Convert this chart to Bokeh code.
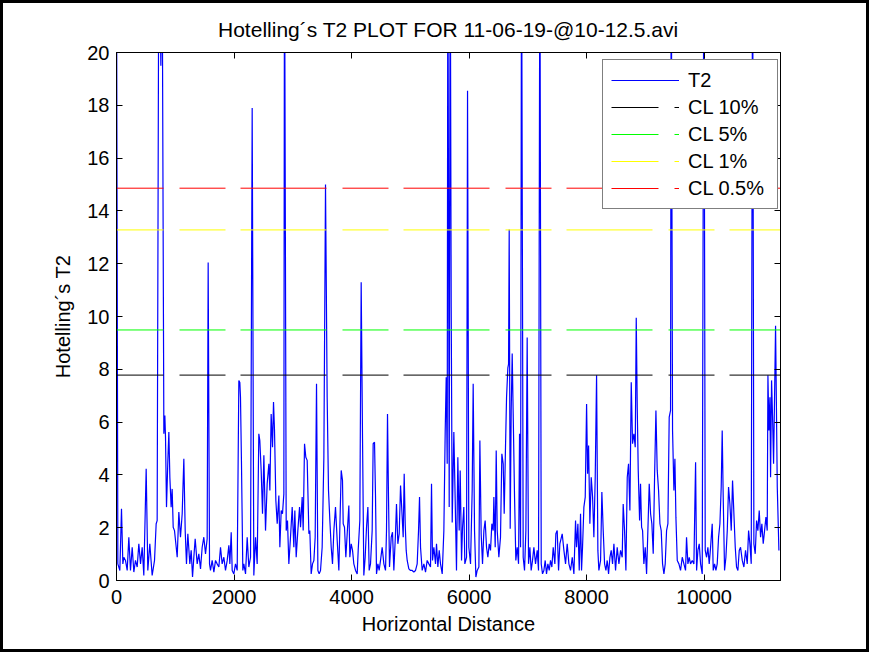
from bokeh.plotting import figure
from bokeh.models import (Range1d, LinearAxis, FixedTicker, Legend, LegendItem,
                          CustomJSTickFormatter)
from bokeh.embed import file_html
from bokeh.resources import INLINE

# ---------------- data ----------------
title_text = "Hotelling´s T2 PLOT FOR 11-06-19-@10-12.5.avi"
x_label = "Horizontal Distance"
y_label = "Hotelling´s T2"
x_ticks = [0, 2000, 4000, 6000, 8000, 10000]
y_ticks = [0, 2, 4, 6, 8, 10, 12, 14, 16, 18, 20]
x_lim = [0, 11300]
y_lim = [0, 20]

dist = [
    0, 23, 57, 85, 108, 125, 153, 182, 210, 238, 267, 295, 323, 352, 380, 409, 437, 465,
    505, 533, 567, 607, 647, 675, 692, 721, 755, 775, 806, 823, 834, 851, 874, 891, 908,
    930, 947, 965, 987, 1016, 1033, 1061, 1089, 1118, 1146, 1169, 1191, 1214, 1248, 1271,
    1294, 1316, 1339, 1373, 1401, 1430, 1458, 1486, 1515, 1543, 1560, 1583, 1600, 1628,
    1657, 1685, 1713, 1742, 1770, 1798, 1827, 1855, 1884, 1912, 1929, 1952, 1969, 1997,
    2025, 2054, 2082, 2099, 2110, 2127, 2150, 2167, 2196, 2224, 2252, 2281, 2309, 2337,
    2366, 2394, 2422, 2439, 2462, 2485, 2508, 2536, 2564, 2593, 2610, 2632, 2655, 2672,
    2689, 2712, 2735, 2763, 2780, 2803, 2825, 2848, 2859, 2888, 2910, 2933, 2961, 2990,
    3018, 3035, 3058, 3086, 3115, 3132, 3160, 3177, 3200, 3222, 3245, 3274, 3290, 3313,
    3336, 3359, 3381, 3404, 3427, 3449,
    3472, 3500, 3529, 3557, 3585, 3608, 3631, 3654, 3676, 3699, 3727, 3756, 3784, 3801,
    3824, 3846, 3858, 3880, 3903, 3926, 3954, 3971, 3994, 4017, 4039, 4068, 4096, 4113,
    4141, 4164, 4187, 4209, 4232, 4255, 4278, 4300, 4323, 4351, 4368, 4391, 4408, 4425,
    4448, 4470, 4493, 4521, 4550, 4578, 4595, 4612, 4629, 4646, 4675, 4697, 4720, 4748,
    4765, 4788, 4811, 4834, 4856, 4879, 4896, 4913, 4930, 4947, 4975, 5004, 5032, 5060,
    5089, 5117, 5140, 5157, 5174, 5202, 5231, 5259, 5287, 5316, 5344, 5361, 5378, 5401,
    5429, 5446, 5469, 5492, 5514, 5543, 5571, 5594, 5611, 5628, 5639, 5662, 5679, 5696,
    5713, 5741, 5764, 5786, 5809, 5832, 5849, 5872, 5889, 5911, 5928, 5957, 5974, 5996,
    6025, 6053, 6070, 6093, 6116, 6138, 6167, 6184, 6206, 6229, 6252, 6274, 6297, 6320,
    6343, 6365, 6388, 6411, 6422, 6445, 6462, 6479, 6507, 6535, 6558, 6581, 6598, 6620,
    6638, 6660, 6672, 6683, 6700, 6717, 6734, 6751, 6774, 6796, 6819, 6842, 6859, 6876,
    6893, 6921, 6944, 6967, 6989, 7012, 7035, 7057, 7080, 7103, 7131, 7160, 7182, 7205,
    7228, 7250, 7273, 7296, 7318, 7341, 7364, 7386, 7409, 7432, 7460, 7477, 7500, 7523,
    7545,
    7585, 7614, 7642, 7670, 7699, 7727, 7756, 7784, 7812, 7829, 7852, 7875, 7897, 7914,
    7931, 7954, 7977, 8000, 8017, 8034, 8056, 8079, 8102, 8124, 8147, 8170, 8192, 8209,
    8238, 8260, 8283, 8306, 8329, 8351, 8374, 8397, 8419, 8442, 8465, 8493, 8521, 8550,
    8578, 8606, 8623, 8646, 8669, 8692, 8714, 8737, 8760, 8782, 8805, 8828, 8845, 8862,
    8879, 8902, 8918, 8936, 8953, 8975, 8998, 9021, 9043, 9066, 9089, 9111, 9134, 9157,
    9180, 9202, 9225, 9248, 9270, 9293, 9316, 9338, 9361, 9384, 9406, 9429, 9440, 9463,
    9486, 9503, 9520, 9543, 9571, 9599, 9628, 9656, 9684, 9701, 9724, 9747, 9769, 9798,
    9826, 9855, 9872, 9894, 9917, 9940, 9968, 9996, 10019, 10042, 10064, 10087, 10110,
    10138, 10155, 10178, 10201, 10223, 10246, 10269, 10291, 10308, 10325, 10348, 10371,
    10394, 10416, 10439, 10462, 10484, 10507, 10530, 10552, 10575, 10598, 10620, 10649,
    10677, 10705, 10734, 10757, 10779, 10802, 10825, 10847, 10870, 10893, 10915, 10938,
    10961, 10983, 11006, 11029, 11052, 11074, 11086, 11103, 11120, 11131, 11148, 11165,
    11182, 11199, 11216, 11245, 11273,
]

t2 = [
    24.0, 0.63, 0.38, 2.72, 0.63, 0.88, 0.76, 0.38, 1.64, 0.38, 1.26, 0.32, 0.76, 0.51, 1.39, 0.63, 1.26, 0.19,
    4.23, 0.38, 1.39, 0.19, 0.76, 2.15, 2.27, 25.0, 19.5, 25.0, 5.56, 6.25, 5.43, 2.78, 4.55, 5.62, 3.91,
    2.78, 3.47, 2.02, 1.89, 1.26, 0.88, 2.59, 1.64, 2.53, 4.61, 1.89, 0.63, 1.77, 0.63, 1.14,
    0.13, 0.88, 1.58, 0.63, 1.01, 0.44, 1.26, 1.64, 1.01, 1.58, 12.05, 0.63, 0.38, 0.76,
    0.32, 0.76, 0.63, 0.51, 1.26, 0.63, 0.88, 0.38, 0.76, 1.33, 0.63, 1.83, 0.38, 0.25,
    0.63, 0.38, 7.58, 7.5, 6.94, 4.42, 0.38, 0.63, 0.25, 1.64, 0.51, 0.88, 17.9, 0.19,
    1.64, 0.63, 5.56, 5.3, 4.17, 2.53, 4.74, 1.89, 3.66, 4.42, 3.41, 6.31, 5.05, 6.76,
    5.68, 3.03, 2.15, 3.22, 1.26, 2.65, 2.53, 3.28, 25.0, 1.89, 2.27, 0.63, 1.64, 2.78,
    1.26, 2.65, 0.88, 1.89, 2.78, 2.02, 3.16, 1.89, 5.18, 4.67, 4.55, 1.77, 1.89, 0.25,
    0.63, 0.76, 1.64, 7.45, 0.38, 0.25,
    0.38, 1.26, 4.67, 15.0, 6.94, 3.41, 2.27, 1.26, 0.63, 1.89, 2.78, 1.51, 0.38, 2.02,
    4.17, 3.79, 2.15, 2.02, 0.88, 1.77, 2.84, 0.88, 1.39, 1.14, 0.63, 0.38, 0.25, 1.14,
    2.27, 11.3, 5.37, 0.19, 0.88, 2.02, 2.78, 0.38, 0.63, 1.89, 5.18, 5.24, 3.16, 0.25,
    0.63, 0.38, 0.76, 1.26, 0.63, 0.38, 1.89, 6.31, 3.16, 0.51, 1.64, 1.83, 0.38, 1.77,
    2.9, 1.39, 1.77, 3.6, 2.65, 1.64, 4.04, 2.15, 1.14, 0.76, 0.44, 0.38, 0.38, 0.32,
    0.38, 0.63, 1.89, 3.16, 1.26, 0.38, 0.63, 0.32, 0.76, 0.63, 0.51, 3.66, 0.76, 1.26,
    0.63, 1.39, 0.51, 1.14, 0.63, 0.25, 1.89, 5.68, 7.7, 4.42, 25.0, 2.78, 25.0, 10.35,
    2.2, 5.62, 3.03, 0.38, 4.67, 1.89, 4.17, 0.76, 2.02, 2.78, 0.63, 0.88, 18.55, 1.26,
    0.63, 3.41, 7.45, 1.89, 0.13, 0.38, 0.51, 5.3, 1.77, 0.63, 1.89, 2.27, 1.26, 0.88,
    1.39, 1.14, 2.15, 1.89, 3.16, 1.26, 4.92, 1.89, 0.88, 1.64, 4.8, 4.42, 2.53, 5.05,
    6.94, 8.05, 8.2, 13.3, 1.96, 6.44, 8.6, 6.31, 3.16, 0.76, 1.26, 0.63, 5.56, 1.26,
    25.0, 0.88, 0.38, 1.89, 9.2, 0.63, 1.26, 0.38, 0.76, 1.26, 0.63, 1.14, 0.38, 25.0,
    0.63, 0.25, 0.38, 0.76, 0.25, 0.63, 0.38, 0.76, 0.51, 1.26, 0.63, 1.77, 1.89, 0.38,
    1.39,
    1.77, 1.14, 0.63, 1.39, 0.63, 0.38, 0.88, 0.25, 2.27, 1.26, 2.15, 0.38, 2.53, 0.38,
    1.26, 2.78, 3.16, 6.69, 4.04, 5.11, 2.15, 3.91, 3.16, 1.64, 3.91, 7.77, 1.14, 0.38,
    0.76, 3.35, 1.89, 0.63, 0.38, 0.76, 0.25, 0.88, 1.14, 0.63, 1.39, 0.38, 1.26, 0.63,
    1.14, 0.88, 2.9, 1.89, 0.38, 3.91, 4.42, 2.65, 7.51, 5.18, 5.56, 5.05, 9.95, 6.56,
    4.17, 2.27, 3.66, 2.02, 1.89, 0.63, 1.26, 0.25, 1.89, 3.66, 2.53, 2.15, 1.01, 3.91,
    6.44, 4.17, 3.41, 2.15, 1.89, 0.63, 0.25, 0.63, 1.89, 2.15, 6.19, 6.44, 25.0, 5.68,
    3.41, 4.61, 2.4, 0.76, 0.63, 0.38, 0.88, 0.63, 0.38, 1.64, 0.63, 0.88, 0.63, 0.76,
    0.63, 4.48, 0.38, 1.14, 1.39, 0.63, 0.25, 25.0, 1.14, 0.88, 1.26, 0.63, 1.26,
    2.15, 0.38, 0.63, 0.38, 0.63, 1.64, 2.15, 3.54, 5.68, 3.16, 0.38, 0.88,
    1.89, 3.54, 2.9, 1.89, 3.79, 2.53, 1.26, 0.51, 0.38, 1.14, 1.26, 0.76,
    0.51, 1.14, 0.63, 1.89, 1.39, 0.63, 25.0, 1.39, 1.01, 2.27, 1.89, 2.65,
    1.64, 2.15, 1.39, 1.89, 2.4, 1.89, 7.77, 5.68, 6.94, 3.91, 7.58, 6.19,
    4.42, 6.94, 9.65, 3.54, 1.14,
]

cl_names = ["CL 10%", "CL 5%", "CL 1%", "CL 0.5%"]
cl_values = [7.78, 9.49, 13.28, 14.86]
cl_colors = ["#000000", "#00ff00", "#ffff00", "#ff0000"]
t2_color = "#0000ff"

# ---------------- figure ----------------
FONT = "Liberation Sans"
BORDER = 3

p = figure(width=869, height=652,
           x_range=Range1d(x_lim[0], x_lim[1]), y_range=Range1d(y_lim[0], y_lim[1]),
           output_backend="svg", toolbar_location=None,
           min_border_left=113, min_border_right=92,
           min_border_top=49, min_border_bottom=75,
           background_fill_color="white", border_fill_color="white",
           styles={"border": f"{BORDER}px solid black", "box-sizing": "border-box"})

p.title.text = title_text
p.title.align = "center"
p.title.text_font = FONT
p.title.text_font_size = "21px"
p.title.text_font_style = "normal"
p.title.text_color = "black"
p.title.standoff = 23

p.grid.visible = False
p.outline_line_color = "black"
p.outline_line_width = 1

def style_axis(ax):
    ax.major_tick_in = 6
    ax.major_tick_out = 0
    ax.minor_tick_line_color = None
    ax.axis_line_color = "black"
    ax.major_tick_line_color = "black"
    ax.major_label_text_font = FONT
    ax.major_label_text_font_size = "20px"
    ax.major_label_text_color = "black"
    ax.axis_label_text_font = FONT
    ax.axis_label_text_font_size = "20px"
    ax.axis_label_text_font_style = "normal"
    ax.axis_label_text_color = "black"

p.xaxis.ticker = FixedTicker(ticks=x_ticks)
p.yaxis.ticker = FixedTicker(ticks=y_ticks)
style_axis(p.xaxis[0])
style_axis(p.yaxis[0])
p.xaxis.axis_label = x_label
p.yaxis.axis_label = y_label
p.xaxis.major_label_standoff = 9
p.yaxis.major_label_standoff = 7
p.xaxis.axis_label_standoff = 6
p.yaxis.axis_label_standoff = 10

blank = CustomJSTickFormatter(code="return ''")
right_ax = LinearAxis(ticker=FixedTicker(ticks=y_ticks), formatter=blank)
top_ax = LinearAxis(ticker=FixedTicker(ticks=x_ticks), formatter=blank)
for ax in (right_ax, top_ax):
    style_axis(ax)
    ax.major_label_standoff = 0
p.add_layout(right_ax, "right")
p.add_layout(top_ax, "above")

# T2 series
r_t2 = p.line(dist, t2, line_color=t2_color, line_width=1.2)

# control limit lines
cl_renderers = []
for name, v, c in zip(cl_names, cl_values, cl_colors):
    r = p.line([x_lim[0], x_lim[1]], [v, v], line_color=c, line_width=1,
               line_dash="86 16 46 15", line_dash_offset=39)
    cl_renderers.append(r)

items = [LegendItem(label="T2", renderers=[r_t2])]
for name, r in zip(cl_names, cl_renderers):
    items.append(LegendItem(label=name, renderers=[r]))

legend = Legend(items=items, location=(486, 371))
legend.label_text_font = FONT
legend.label_text_font_size = "20px"
legend.label_text_color = "black"
legend.label_height = 24
legend.glyph_height = 24
legend.glyph_width = 68
legend.label_width = 81
legend.spacing = 3
legend.padding = 8
legend.margin = 0
legend.label_standoff = 9
legend.border_line_color = "black"
legend.border_line_width = 1
legend.background_fill_color = "white"
legend.background_fill_alpha = 1.0
p.add_layout(legend)

open("out.html", "w").write(file_html(p, INLINE))
